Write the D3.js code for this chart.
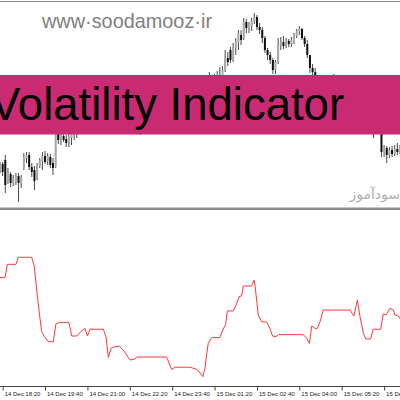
<!DOCTYPE html>
<html>
<head>
<meta charset="utf-8">
<script src="https://cdn.jsdelivr.net/npm/d3@7"></script>
<style>
  html, body { margin: 0; padding: 0; background: #fff; }
  svg { display: block; }
</style>
</head>
<body>
<svg id="chart" width="400" height="400"></svg>
<script>
// ---------- DATA ----------
// candle bar indices run from -1 to 150 (M5 bars)
const barStart = -1;
const opens  = [37,43,47,25,33,24,25,31,23,39,49,52,40,37,29,41,46,51,46,50,44,40,77,67,71,68,64,69,72,76,80,87,93,89,96,101,97,103,107,102,97,99,93,95,90,92,87,89,85,87,83,85,81,79,82,84,86,84,87,90,89,92,91,94,93,96,95,98,97,100,99,102,101,104,103,106,105,108,113,119,125,122,127,124,131,137,149,157,147,159,165,172,169,185,179,181,186,190,180,177,169,157,152,147,137,145,162,165,161,166,163,167,171,176,178,169,163,152,139,135,129,122,117,119,115,117,121,123,117,111,105,99,103,97,91,93,87,89,83,85,80,78,76,79,76,55,59,52,57,53,58,55];
const highs  = [45,45,52,39,35,32,34,34,32,54,55,55,44,41,44,49,55,56,54,53,49,82,81,77,75,72,73,77,81,85,90,97,98,100,105,104,107,111,110,105,102,101,98,97,94,94,91,91,89,89,87,87,83,85,86,88,89,90,93,93,95,95,97,96,98,99,101,101,103,103,105,105,107,107,109,109,111,116,123,135,131,133,136,140,141,157,155,160,164,169,177,177,189,188,185,189,194,192,184,180,171,159,155,149,147,169,170,171,169,168,170,174,178,181,179,171,167,152,143,139,131,125,123,122,120,125,133,125,119,114,107,106,105,99,96,95,92,91,88,87,82,81,82,83,78,62,61,60,61,62,64,62];
const lows   = [34,31,14,23,20,21,22,5,19,37,44,37,30,17,27,39,37,43,42,39,32,39,63,62,65,60,60,62,67,69,77,84,85,86,93,92,94,99,98,94,93,89,90,87,86,84,84,81,82,80,80,78,76,72,79,81,81,82,85,86,87,88,89,90,91,92,93,94,95,96,97,98,99,100,101,102,103,106,110,117,119,119,121,121,127,135,141,144,145,152,157,162,167,174,174,176,183,177,173,164,154,147,143,133,133,143,157,158,159,160,160,163,169,172,167,160,149,134,131,122,117,112,113,111,112,114,117,112,107,101,95,95,93,88,87,83,82,79,78,76,74,69,73,73,50,50,44,49,50,51,52,53];
const closes = [43,35,22,35,24,29,31,24,30,50,52,40,35,26,41,47,51,45,51,42,39,79,67,71,67,64,70,73,77,80,87,93,89,96,101,97,103,107,102,97,99,93,95,90,92,87,89,85,87,83,85,81,79,82,84,86,84,87,90,89,92,91,94,93,96,95,98,97,100,99,102,101,104,103,106,105,108,113,119,125,122,127,124,131,137,149,145,147,159,165,174,167,185,179,182,186,190,180,177,169,157,152,147,137,145,162,165,161,166,163,167,171,176,178,169,163,152,139,135,129,122,117,119,115,117,121,123,117,111,105,99,103,97,91,93,87,89,83,85,80,78,76,79,76,55,59,52,57,53,58,55,59];

// volatility indicator (bar position, value)
const volBar = [-1,0.9,1.76,5.04,5.9,10.97,11.95,12.85,13.84,14.74,15.6,17.2,19.1,20.1,21.4,25.0,26.1,27.95,29.5,31.1,32.0,33.0,38.0,39.0,39.9,40.9,42.4,44.0,45.5,48.1,49.6,50.8,61.9,63.8,65.1,70.7,73.4,74.5,75.6,76.4,76.9,77.6,78.9,82.0,83.1,84.2,84.8,87.1,88.4,89.2,90.2,90.8,94.0,94.9,95.3,96.5,97.8,99.7,100.9,101.9,103.2,104.1,113.5,114.8,115.8,116.7,117.9,118.8,119.8,121.0,131.1,132.6,133.9,134.9,136.2,137.1,138.9,139.9,142.7,143.7,144.7,146.2,147.5,148.1,149.4,150];
const volValue = [72.9,72.9,81.8,81.8,86.5,86.5,80.2,64.7,49.3,36.9,34,30.2,30.2,42,43.1,43.1,34,34,36.9,39.1,34,38.5,38.5,33.5,19.8,25.8,26.9,27.3,24.7,18,18.5,20,20,11.7,13.2,13.2,11.7,9.3,6.9,12.7,20.2,29.1,32.9,32.9,38,41.8,50.7,50.7,55.8,60.2,60.7,67.3,67.3,71.3,67.3,48,43.5,43.3,39.1,34,33.5,34.9,34.9,32.5,29.1,40.7,39.1,39.1,43.5,51.3,51.3,47.3,58,46.9,35.8,32,32,38.5,38.5,48.7,48,52.5,51.3,48,47.3,45.5];

const tickBars = [0,16,32,48,64,80,96,112,128,144];
const tickLabels = ["14 Dec 18:20","14 Dec 19:40","14 Dec 21:00","14 Dec 22:20","14 Dec 23:40","15 Dec 01:20","15 Dec 02:40","15 Dec 04:00","15 Dec 05:20","15 Dec 06:40"];

const siteText = "www\u00B7soodamooz\u00B7ir";
const titleText = "Volatility Indicator";
const persianText = "سودآموز";

// ---------- DRAW ----------
const svg = d3.select("#chart");
const x = d3.scaleLinear().domain([-1, 150]).range([0, 400]);
const yPrice = d3.scaleLinear().domain([0, 204]).range([207, 3]);
const yVol = d3.scaleLinear().domain([0, 100]).range([387, 237]);

// top border
svg.append("line").attr("x1",0).attr("x2",400).attr("y1",1.5).attr("y2",1.5)
  .attr("stroke","#8a8a8a").attr("stroke-width",1.2);

// watermark site
svg.append("text").attr("x",42).attr("y",28)
  .attr("font-family","Liberation Sans, Arial, sans-serif").attr("font-size",21)
  .attr("fill","#808080").attr("textLength",170).attr("lengthAdjust","spacingAndGlyphs")
  .text(siteText);

// persian watermark
svg.append("text").attr("x",400).attr("y",199).attr("text-anchor","end")
  .attr("font-family","DejaVu Sans, sans-serif").attr("font-size",14)
  .attr("fill","#b0b0b0").text(persianText);

// candles
const candles = opens.map((o,k) => ({i: barStart + k, o, h: highs[k], l: lows[k], c: closes[k]}));
const cg = svg.append("g");
cg.selectAll("line.wick").data(candles).join("line")
  .attr("class","wick")
  .attr("x1", d => x(d.i)).attr("x2", d => x(d.i))
  .attr("y1", d => yPrice(d.h)).attr("y2", d => yPrice(d.l))
  .attr("stroke","#333").attr("stroke-width",0.9);
cg.selectAll("rect.body").data(candles).join("rect")
  .attr("class","body")
  .attr("x", d => x(d.i) - 1).attr("width", 2)
  .attr("y", d => yPrice(Math.max(d.o,d.c)))
  .attr("height", d => Math.max(1, Math.abs(yPrice(d.o) - yPrice(d.c))))
  .attr("fill", d => d.c >= d.o ? "#a8a8a8" : "#111");

// banner
svg.append("rect").attr("x",0).attr("y",75).attr("width",400).attr("height",59.5)
  .attr("fill","#c92a72");
svg.append("text").attr("x",-10).attr("y",120)
  .attr("font-family","Liberation Sans, Arial, sans-serif").attr("font-size",45.5)
  .attr("fill","#000").text(titleText);

// pane separator
svg.append("rect").attr("x",0).attr("y",207.5).attr("width",400).attr("height",2.5)
  .attr("fill","#8c8c8c");

// volatility line
const vol = volBar.map((b,k) => ({b, v: volValue[k]}));
svg.append("path").datum(vol)
  .attr("d", d3.line().x(d => x(d.b)).y(d => yVol(d.v)))
  .attr("fill","none").attr("stroke","#ff3838").attr("stroke-width",1);

// time axis
const axis = d3.axisBottom(x).tickValues(tickBars)
  .tickFormat((d,k) => tickLabels[k]).tickSize(4).tickSizeOuter(0);
const ag = svg.append("g").attr("transform","translate(0,386.5)").call(axis);
ag.select(".domain").attr("stroke","#444").attr("d","M0,0H400");
ag.selectAll(".tick line").attr("stroke","#444");
ag.selectAll(".tick text")
  .attr("text-anchor","start").attr("x",1.5).attr("y",5.5).attr("dy","0.71em")
  .attr("font-family","Liberation Sans, Arial, sans-serif").attr("font-size",6)
  .attr("fill","#222");
</script>
</body>
</html>
